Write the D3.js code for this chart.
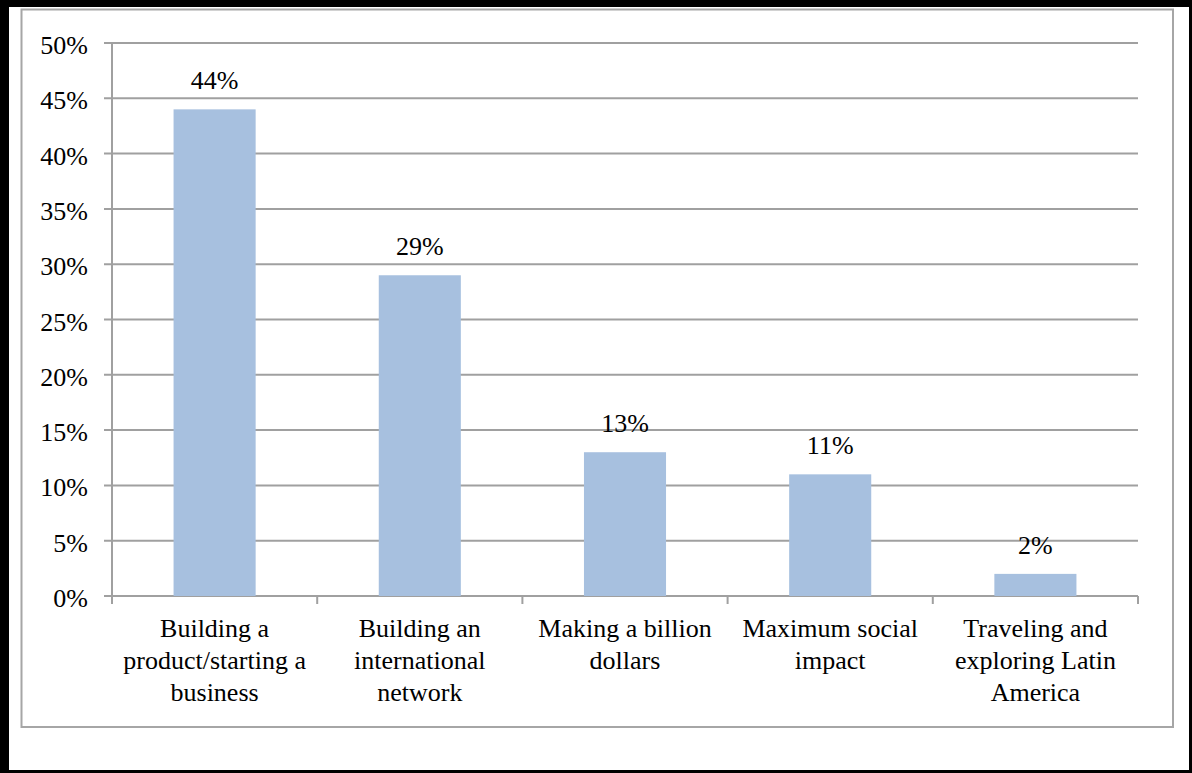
<!DOCTYPE html>
<html>
<head>
<meta charset="utf-8">
<script src="https://cdn.jsdelivr.net/npm/d3@7"></script>
<style>
  html, body { margin: 0; padding: 0; background: #fff; }
  svg { display: block; }
</style>
</head>
<body>
<svg id="chart" width="1192" height="773"></svg>
<script>
// Survey results: main motivation
const categories = [
  ["Building a", "product/starting a", "business"],
  ["Building an", "international", "network"],
  ["Making a billion", "dollars"],
  ["Maximum social", "impact"],
  ["Traveling and", "exploring Latin", "America"]
];
const values = [44, 29, 13, 11, 2];
const yTicks = [0, 5, 10, 15, 20, 25, 30, 35, 40, 45, 50];

const W = 1192, H = 773;
const FONT = "Liberation Serif, Times New Roman, DejaVu Serif, serif";
const FS = 26;
const svg = d3.select("#chart").attr("font-family", FONT);

// outer black frame
svg.append("rect").attr("x", 0).attr("y", 0).attr("width", W).attr("height", H).attr("fill", "#000");
svg.append("rect").attr("x", 9).attr("y", 7).attr("width", W - 9 - 3).attr("height", H - 7 - 3).attr("fill", "#fff");

// chart area border
svg.append("rect")
  .attr("x", 21.5).attr("y", 9.5)
  .attr("width", 1173 - 21.5).attr("height", 727 - 9.5)
  .attr("fill", "#fff").attr("stroke", "#a6a6a6").attr("stroke-width", 2);

const plot = { left: 112, right: 1138, top: 43, bottom: 596 };
const idx = d3.range(values.length);

const x = d3.scaleBand().domain(idx).range([plot.left, plot.right]).paddingInner(0.6).paddingOuter(0.3);
const xOuter = d3.scaleBand().domain(idx).range([plot.left, plot.right]);
const y = d3.scaleLinear().domain([0, 50]).range([plot.bottom, plot.top]);

const grid = "#a0a0a0";

// horizontal gridlines
svg.append("g").selectAll("line").data(yTicks).join("line")
  .attr("x1", plot.left - 8).attr("x2", plot.right)
  .attr("y1", d => y(d)).attr("y2", d => y(d))
  .attr("stroke", grid).attr("stroke-width", 2);

// y axis line
svg.append("line")
  .attr("x1", plot.left).attr("x2", plot.left)
  .attr("y1", plot.top).attr("y2", plot.bottom)
  .attr("stroke", grid).attr("stroke-width", 2);

// x axis ticks at category boundaries
const bounds = idx.map(i => xOuter(i)).concat([plot.right]);
svg.append("g").selectAll("line").data(bounds).join("line")
  .attr("x1", d => d).attr("x2", d => d)
  .attr("y1", plot.bottom).attr("y2", plot.bottom + 8)
  .attr("stroke", grid).attr("stroke-width", 2);

// y tick labels
svg.append("g").selectAll("text").data(yTicks).join("text")
  .attr("x", 88).attr("y", d => y(d) + 11)
  .attr("text-anchor", "end")
  .attr("font-size", FS)
  .text(d => d + "%");

// bars
svg.append("g").selectAll("rect").data(values).join("rect")
  .attr("x", (d, i) => x(i))
  .attr("width", x.bandwidth())
  .attr("y", d => y(d))
  .attr("height", d => y(0) - y(d))
  .attr("fill", "#a7c0df");

// value labels
svg.append("g").selectAll("text").data(values).join("text")
  .attr("x", (d, i) => x(i) + x.bandwidth() / 2)
  .attr("y", d => y(d) - 20)
  .attr("text-anchor", "middle")
  .attr("font-size", FS)
  .text(d => d + "%");

// category labels
const cat = svg.append("g").selectAll("text").data(categories).join("text")
  .attr("text-anchor", "middle")
  .attr("font-size", FS);
cat.each(function(lines, i) {
  const cx = xOuter(i) + xOuter.bandwidth() / 2;
  d3.select(this).selectAll("tspan").data(lines).join("tspan")
    .attr("x", cx)
    .attr("y", (l, j) => 637 + j * 32)
    .text(l => l);
});
</script>
</body>
</html>
